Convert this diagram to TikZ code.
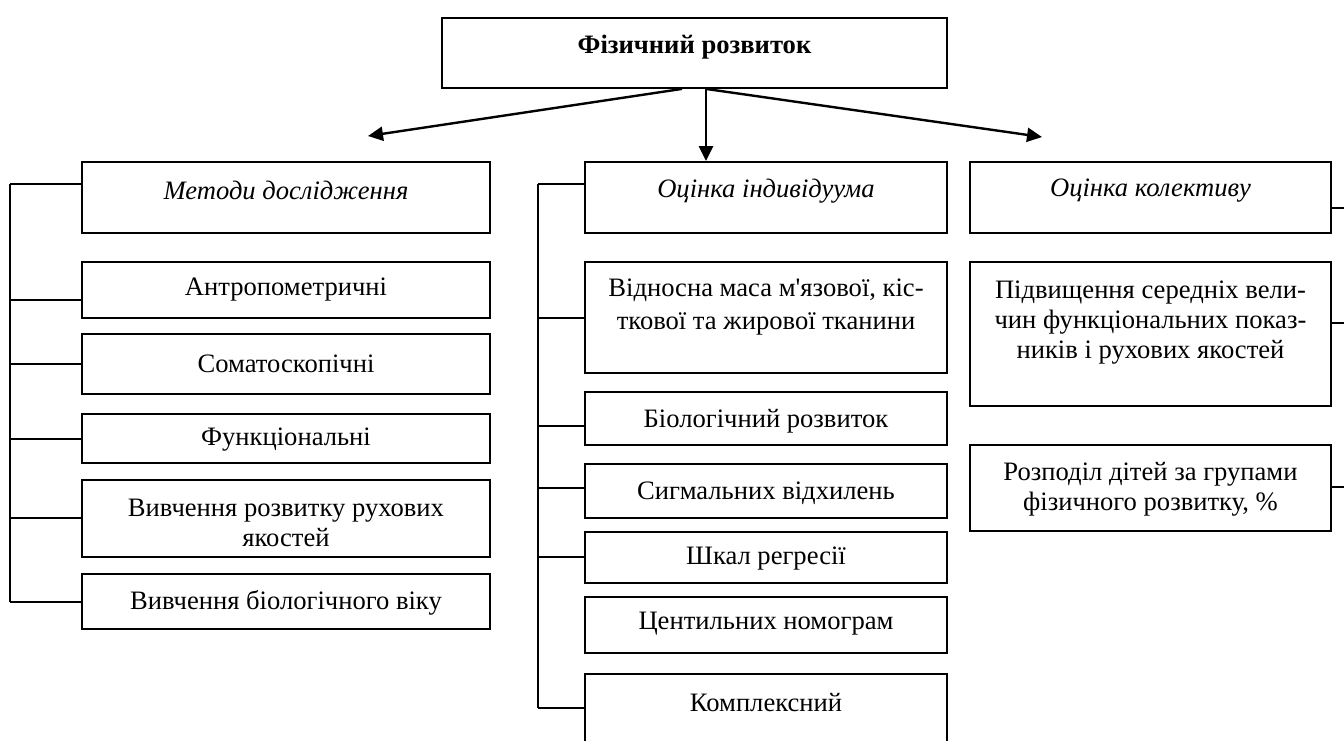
\documentclass[tikz,border=0pt]{standalone}
\usepackage{fontspec}
\setmainfont{Liberation Serif}
\usetikzlibrary{arrows.meta,calc}

\newcommand\bodyfs{\fontsize{26.6}{30}\selectfont}
\newcommand\headfs{\fontsize{26.6}{30}\selectfont\bfseries}

\tikzset{
  box/.style={draw, line width=1.8pt, inner sep=0pt},
  lbl/.style={font=\bodyfs, align=center, inner sep=0pt},
  ital/.style={lbl, font=\bodyfs\itshape},
  link/.style={line width=1.8pt},
  arr/.style={line width=2.4pt, -{Triangle[length=15pt,width=14pt]}},
}

\begin{document}
\begin{tikzpicture}[x=1pt, y=-1pt]
\useasboundingbox (0,0) rectangle (1344,740);

% --- root ---
\node[box, minimum width=505, minimum height=70] (t) at (694.5,53) {};
\node[lbl, font=\headfs] (tt) at (694.5,47) {Фізичний розвиток};

% --- left column: research methods ---
\node[box, minimum width=408, minimum height=71] (m0) at (286,197.5) {};
\node[ital] (m0t) at (286,190) {Методи дослідження};
\node[box, minimum width=408, minimum height=56] (m1) at (286,290) {};
\node[lbl] (m1t) at (286,290) {Антропометричні};
\node[box, minimum width=408, minimum height=60] (m2) at (286,364) {};
\node[lbl] (m2t) at (286,364) {Соматоскопічні};
\node[box, minimum width=408, minimum height=49] (m3) at (286,438.5) {};
\node[lbl] (m3t) at (286,440) {Функціональні};
\node[box, minimum width=408, minimum height=77] (m4) at (286,518.5) {};
\node[lbl] (m4t) at (286,523) {Вивчення розвитку рухових\\якостей};
\node[box, minimum width=408, minimum height=55] (m5) at (286,601.5) {};
\node[lbl] (m5t) at (286,603) {Вивчення біологічного віку};

% --- middle column: individual assessment ---
\node[box, minimum width=362, minimum height=71] (i0) at (766,197.5) {};
\node[ital] (i0t) at (766,191) {Оцінка індивідуума};
\node[box, minimum width=362, minimum height=111] (i1) at (766,317.5) {};
\node[lbl, font=\fontsize{26.6}{33}\selectfont] (i1t) at (766,307)
  {Відносна маса м\textquotesingle язової, кіс-\\ткової та жирової тканини};
\node[box, minimum width=362, minimum height=53] (i2) at (766,418.5) {};
\node[lbl] (i2t) at (766,421) {Біологічний розвиток};
\node[box, minimum width=362, minimum height=54] (i3) at (766,491) {};
\node[lbl] (i3t) at (766,493) {Сигмальних відхилень};
\node[box, minimum width=362, minimum height=51] (i4) at (766,557.5) {};
\node[lbl] (i4t) at (766,559) {Шкал регресії};
\node[box, minimum width=362, minimum height=56] (i5) at (766,625) {};
\node[lbl] (i5t) at (766,624) {Центильних номограм};
\node[box, minimum width=362, minimum height=86] (i6) at (766,717) {};
\node[lbl] (i6t) at (766,703) {Комплексний};

% --- right column: group assessment ---
\node[box, minimum width=361, minimum height=71] (k0) at (1150.5,197.5) {};
\node[ital] (k0t) at (1150.5,191) {Оцінка колективу};
\node[box, minimum width=361, minimum height=144] (k1) at (1150.5,334) {};
\node[lbl] (k1t) at (1150.5,323)
  {Підвищення середніх вели-\\чин функціональних показ-\\ників і рухових якостей};
\node[box, minimum width=361, minimum height=86] (k2) at (1150.5,488) {};
\node[lbl] (k2t) at (1150.5,489) {Розподіл дітей за групами\\фізичного розвитку, \%};

% --- arrows from the root ---
\coordinate (s1) at ($(t.south)+(-12.5,0)$);
\coordinate (s2) at ($(t.south)+(11.5,0)$);
\coordinate (tipL) at (368,136);
\coordinate (tipR) at (1042,137);
\draw[arr] (s1) -- (tipL);
\draw[arr] (s2) -- (s2 |- i0.north);
\draw[arr] (s2) -- (tipR);

% --- left bracket ---
\coordinate (lb) at (10,184);
\draw[link] (lb) -- (lb |- 0,602);
\foreach \n/\yy in {m0/184, m1/300, m2/364, m3/439, m4/518, m5/602}
  \draw[link] (lb |- 0,\yy) -- (\n.west |- 0,\yy);

% --- middle bracket ---
\coordinate (mb) at (538,184);
\draw[link] (mb) -- (mb |- 0,708);
\foreach \n/\yy in {i0/184, i1/318, i2/426, i3/488, i4/557, i6/708}
  \draw[link] (mb |- 0,\yy) -- (\n.west |- 0,\yy);

% --- right-hand stubs ---
\foreach \n/\yy in {k0/208, k1/323, k2/487}
  \draw[link] (\n.east |- 0,\yy) -- ++(20,0);
\end{tikzpicture}
\end{document}
